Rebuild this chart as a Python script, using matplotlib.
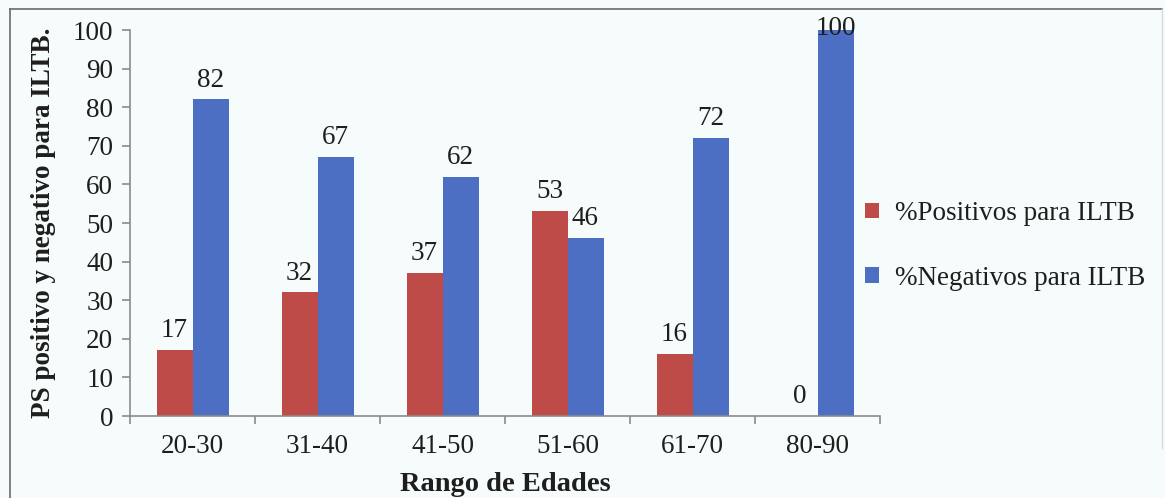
import matplotlib
matplotlib.use("Agg")
import matplotlib.pyplot as plt
import numpy as np
from matplotlib.patches import Patch
from matplotlib.lines import Line2D

# Age groups and percentages of PS results for ILTB
categories = ["20-30", "31-40", "41-50", "51-60", "61-70", "80-90"]
positivos = [17, 32, 37, 53, 16, 0]
negativos = [82, 67, 62, 46, 72, 100]
series_names = ["%Positivos para ILTB", "%Negativos para ILTB"]
y_ticks = [0, 10, 20, 30, 40, 50, 60, 70, 80, 90, 100]

RED = "#BE4B48"
BLUE = "#4C6FC4"
BG = "#F6FCFB"
TXT = "#1E1E1E"
SPINE = "#8A8A8A"

plt.rcParams["font.family"] = ["Liberation Serif", "DejaVu Serif"]

W, H = 1165, 498
fig = plt.figure(figsize=(W / 100, H / 100), dpi=100, facecolor=BG)
ax = fig.add_axes([130 / W, 1 - 416 / H, 750 / W, 386 / H], facecolor=BG)

x = np.arange(len(categories))
bw = 0.288
bars_p = ax.bar(x - bw / 2, positivos, width=bw, color=RED, linewidth=0)
bars_n = ax.bar(x + bw / 2, negativos, width=bw, color=BLUE, linewidth=0)

ax.set_xlim(-0.5, len(categories) - 0.5)
ax.set_ylim(0, 100)

# Value labels above each bar; a label that would leave the plot sits on the bar top
for bars, vals in ((bars_p, positivos), (bars_n, negativos)):
    for b, v in zip(bars, vals):
        cx = b.get_x() + b.get_width() / 2
        if v >= 97:
            ax.annotate(f"{v}", (cx, v), xytext=(0, 1), textcoords="offset points",
                        ha="center", va="center", fontsize=19.5, color=TXT)
        else:
            ax.annotate(f"{v}", (cx, v), xytext=(0, 5), textcoords="offset points",
                        ha="center", va="bottom", fontsize=19.5, color=TXT)

# Axes styling
for s in ("top", "right"):
    ax.spines[s].set_visible(False)
for s in ("left", "bottom"):
    ax.spines[s].set_color(SPINE)
    ax.spines[s].set_linewidth(1.2)

ax.set_yticks(y_ticks)
ax.set_yticklabels([str(t) for t in y_ticks], fontsize=19.5, color=TXT)
ax.tick_params(axis="y", direction="out", length=6, width=1.2, color=SPINE, pad=6)

ax.set_xticks(np.arange(-0.5, len(categories)), minor=False)
ax.set_xticklabels([])
ax.set_xticks(x, minor=True)
ax.set_xticklabels(categories, minor=True, fontsize=19.5, color=TXT)
ax.tick_params(axis="x", which="major", direction="out", length=6, width=1.2, color=SPINE)
ax.tick_params(axis="x", which="minor", length=0, pad=13)

ax.set_ylabel("PS positivo y negativo para ILTB.", fontsize=19.5, fontweight="bold",
              color=TXT, labelpad=12)
ax.set_xlabel("Rango de Edades", fontsize=20.5, fontweight="bold", color=TXT, labelpad=9)

handles = [Patch(facecolor=RED, edgecolor="none"), Patch(facecolor=BLUE, edgecolor="none")]
fig.legend(handles, series_names, loc="center left",
           bbox_to_anchor=(865 / W, 1 - 246 / H), frameon=False, fontsize=19.5,
           handlelength=0.5, handleheight=0.5, handletextpad=0.6,
           labelspacing=1.45, borderpad=0, borderaxespad=0, labelcolor=TXT)

# Outer frame of the chart area
fx0, fy0, fx1 = 10 / W, 1 - 9 / H, 1162 / W
fig.add_artist(Line2D([fx0, fx0], [0, fy0], transform=fig.transFigure, color="#6A6A6A", lw=1.2))
fig.add_artist(Line2D([fx0, fx1], [fy0, fy0], transform=fig.transFigure, color="#6A6A6A", lw=1.2))
fig.add_artist(Line2D([fx1, fx1], [0.1, fy0], transform=fig.transFigure, color="#D5DCDC", lw=1.0))

fig.savefig("out.png", dpi=100, facecolor=BG)
